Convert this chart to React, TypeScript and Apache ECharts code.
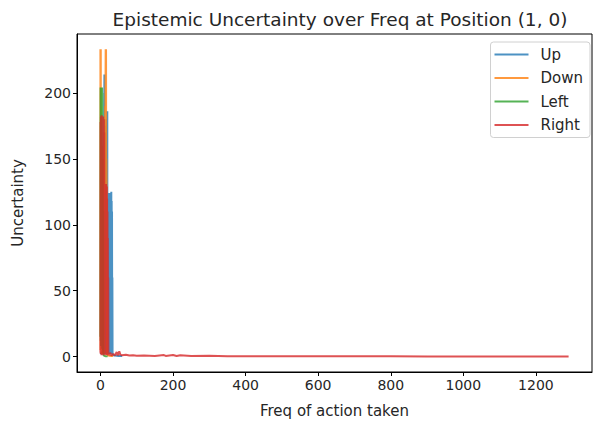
import React, { useEffect, useRef } from "react";
import * as echarts from "echarts";

const seriesNames = ["Up", "Down", "Left", "Right"];
const colors = ["#1f77b4", "#ff7f0e", "#2ca02c", "#d62728"];
const xTicks = [0, 200, 400, 600, 800, 1000, 1200];
const yTicks = [0, 50, 100, 150, 200];

const upData: [number, number][] = [
  [0, 2], [4, 3], [8, 5], [8.5, 150], [9, 3], [9.5, 170], [10, 4], [10.5, 190], [11, 214], [11.5, 3],
  [12, 180], [12.5, 2], [13, 170], [13.5, 4], [14, 175], [14.5, 3], [15, 160], [15.5, 2], [16, 170], [16.5, 5],
  [17, 175], [17.5, 3], [18, 180], [18.5, 2], [19, 186], [19.5, 3], [20, 122], [20.5, 2], [21, 124], [21.5, 4],
  [22, 120], [22.5, 2], [23, 123], [23.5, 3], [24, 121], [24.5, 2], [25, 124], [25.5, 4], [26, 119], [26.5, 2],
  [27, 122], [27.5, 3], [28, 120], [28.5, 2], [29, 123], [29.5, 3], [30, 125], [30.5, 2], [31, 118], [31.5, 3],
  [32, 110], [32.5, 2], [33, 60], [33.5, 2], [34, 1.5], [36, 1], [40, 0.8], [45, 0.6], [50, 0.5], [60, 0.4],
];

const downData: [number, number][] = [
  [0, 233], [0.5, 5], [1, 233], [1.5, 40], [2, 150], [2.5, 3], [3, 120], [3.5, 2], [4, 160], [4.5, 4],
  [5, 140], [5.5, 2], [6, 130], [6.5, 3], [7, 150], [7.5, 2], [8, 120], [8.5, 4], [9, 140], [9.5, 2],
  [10, 150], [10.5, 3], [11, 170], [11.5, 140], [12, 180], [12.5, 130], [13, 190], [13.5, 135], [14, 200], [14.5, 233],
  [15, 140], [15.5, 233], [16, 135], [16.5, 150], [17, 132], [17.5, 60], [18, 5], [18.5, 2], [19, 1.5], [20, 1],
  [22, 0.8], [25, 0.6], [30, 0.5], [35, 0.5],
];

const leftData: [number, number][] = [
  [0, 15], [0.5, 204], [1, 12], [1.5, 203], [2, 8], [2.5, 204], [3, 14], [3.5, 202], [4, 10], [4.5, 204],
  [5, 6], [5.5, 200], [6, 12], [6.5, 150], [7, 5], [7.5, 110], [8, 3], [8.5, 2], [9, 1], [10, 0.8],
  [12, 0.5], [15, 0.3], [20, 0.2],
];

const rightData: [number, number][] = [
  [0, 3], [0.5, 178], [1, 2], [1.5, 182], [2, 5], [2.5, 180], [3, 1], [3.5, 183], [4, 4], [4.5, 176],
  [5, 2], [5.5, 181], [6, 6], [6.5, 179], [7, 1], [7.5, 182], [8, 3], [8.5, 175], [9, 2], [9.5, 180],
  [10, 5], [10.5, 170], [11, 2], [11.5, 131], [12, 4], [12.5, 128], [13, 1], [13.5, 130], [14, 3], [14.5, 126],
  [15, 2], [15.5, 131], [16, 5], [16.5, 124], [17, 1], [17.5, 129], [18, 3], [18.5, 120], [19, 2], [19.5, 110],
  [20, 4], [20.5, 90], [21, 2], [21.5, 60], [22, 1], [23, 3], [25, 1], [27, 3], [30, 1], [35, 2],
  [40, 1], [45, 3.5], [48, 1], [52, 4], [55, 1.5], [60, 1], [70, 1.5], [80, 0.8], [90, 1], [100, 0.6],
  [120, 0.8], [150, 0.5], [175, 1.2], [180, 0.5], [200, 1.3], [210, 0.5], [220, 1], [250, 0.4], [300, 0.6], [350, 0.3],
  [400, 0.3], [500, 0.3], [600, 0.2], [700, 0.2], [800, 0.2], [900, 0.15], [1000, 0.15], [1100, 0.1], [1200, 0.1], [1290, 0.1],
];

const allData = [upData, downData, leftData, rightData];

export default function App() {
  const ref = useRef<HTMLDivElement>(null);
  useEffect(() => {
    if (!ref.current) return;
    const chart = echarts.init(ref.current, null, { renderer: "svg" });
    const font = "DejaVu Sans";
    const textColor = "#262626";
    chart.setOption({
      animation: false,
      backgroundColor: "#fff",
      title: {
        text: "Epistemic Uncertainty over Freq at Position (1, 0)",
        left: 335,
        textAlign: "center",
        top: 5,
        textStyle: { fontFamily: font, fontSize: 18.5, fontWeight: "normal", color: textColor },
      },
      grid: {
        left: 77,
        right: 5,
        top: 34,
        bottom: 49,
        show: true,
        borderColor: "#000",
        borderWidth: 1,
        backgroundColor: "transparent",
        containLabel: false,
        outerBoundsMode: "none",
      },
      legend: {
        data: seriesNames.map((n, i) => ({ name: n, itemStyle: { color: colors[i], opacity: 0.8 } })),
        orient: "vertical",
        right: 7,
        top: 42,
        backgroundColor: "#fff",
        borderColor: "#d0d0d0",
        borderWidth: 1,
        borderRadius: 3,
        padding: [5, 7, 5, 4],
        itemGap: 8.5,
        itemWidth: 34,
        itemHeight: 2,
        icon: "rect",
        textStyle: { fontFamily: font, fontSize: 15, color: textColor, padding: [0, 0, 0, 7] },
      },
      xAxis: {
        type: "value",
        min: -64.5,
        max: 1354.5,
        name: "Freq of action taken",
        nameLocation: "middle",
        nameGap: 31,
        nameTextStyle: { fontFamily: font, fontSize: 15, color: textColor },
        splitLine: { show: false },
        axisLine: { show: true, onZero: false, lineStyle: { color: "#000" } },
        axisTick: { show: true, inside: false, length: 4, lineStyle: { color: "#000" }, customValues: xTicks },
        axisLabel: {
          fontFamily: font, fontSize: 14, color: textColor, margin: 6, customValues: xTicks,
          formatter: (v: number) => String(v),
        },
      },
      yAxis: {
        type: "value",
        min: -11.65,
        max: 244.65,
        name: "Uncertainty",
        nameLocation: "middle",
        nameGap: 52,
        nameTextStyle: { fontFamily: font, fontSize: 15, color: textColor },
        splitLine: { show: false },
        axisLine: { show: true, onZero: false, lineStyle: { color: "#000" } },
        axisTick: { show: true, inside: false, length: 4, lineStyle: { color: "#000" }, customValues: yTicks },
        axisLabel: {
          fontFamily: font, fontSize: 14, color: textColor, margin: 6, customValues: yTicks,
          formatter: (v: number) => String(v),
        },
      },
      series: seriesNames.map((name, i) => ({
        name,
        type: "line",
        data: allData[i],
        showSymbol: false,
        symbol: "none",
        color: colors[i],
        lineStyle: { width: 2, color: colors[i], opacity: 0.8 },
        z: 2 + i,
      })),
    });
    return () => chart.dispose();
  }, []);
  return <div ref={ref} style={{ width: 597, height: 421, position: "absolute", left: 0, top: 0 }} />;
}
